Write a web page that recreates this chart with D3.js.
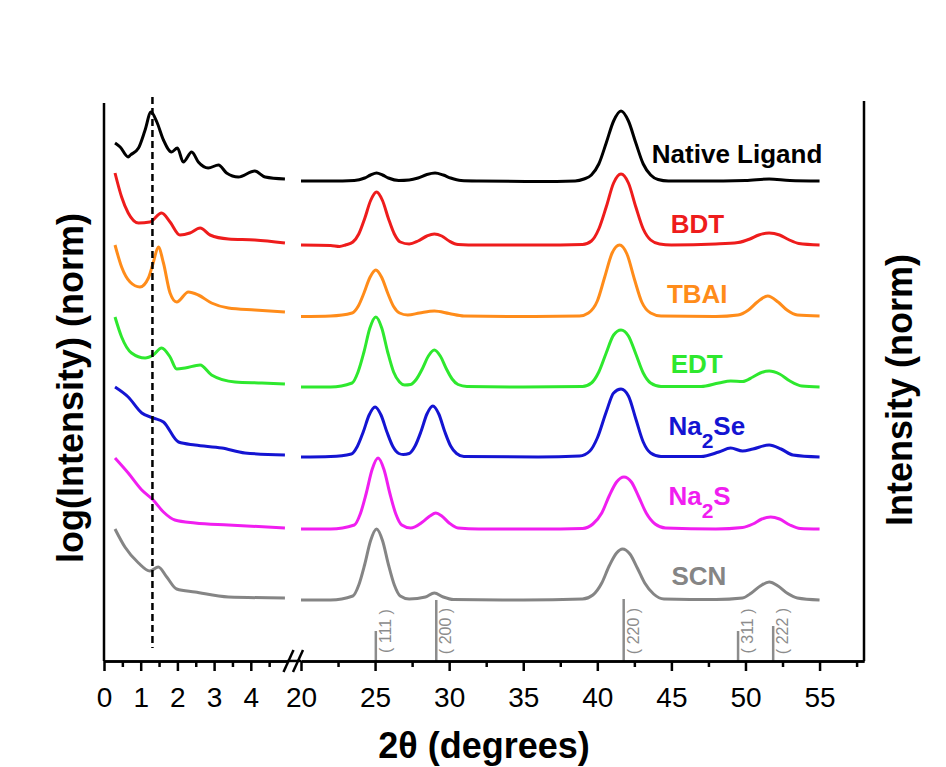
<!DOCTYPE html>
<html>
<head>
<meta charset="utf-8">
<script src="https://cdn.jsdelivr.net/npm/d3@7"></script>
<style>
  body { margin:0; background:#fff; }
  text { font-family: "Liberation Sans", Arial, sans-serif; }
</style>
</head>
<body>
<div id="chart"></div>
<script>
// XRD of PbSe NC films, low angle (log) + wide angle (linear)
const width = 946;
const height = 767;

const names = ["Native Ligand", "BDT", "TBAI", "EDT", "Na2Se", "Na2S", "SCN"];
const colors = ["#000000", "#ee1c1c", "#ff8c1a", "#2ee82e", "#1414d2", "#f01ef0", "#858585"];

// low angle part, log(Intensity), offset per sample
const lowNative = [[0.30,51.8],[0.44,51.4],[0.66,50.4],[0.72,50.6],[0.94,51.3],[1.12,53.1],[1.28,54.9],[1.44,53.9],[1.62,52.1],[1.84,50.9],[2.00,51.3],[2.16,49.9],[2.39,50.9],[2.57,49.9],[2.84,49.3],[3.12,49.6],[3.34,48.8],[3.66,48.4],[4.11,49.0],[4.39,48.4],[4.93,48.2]];
const lowBDT = [[0.30,48.8],[0.48,46.4],[0.66,44.8],[0.94,43.8],[1.25,43.9],[1.57,44.8],[1.80,43.9],[2.07,42.6],[2.34,42.8],[2.62,43.3],[2.89,42.6],[3.39,42.2],[4.11,42.1],[4.93,41.8]];
const lowTBAI = [[0.30,41.6],[0.48,39.4],[0.71,37.9],[0.98,37.4],[1.21,38.3],[1.34,39.8],[1.48,41.4],[1.62,39.8],[1.80,36.8],[1.98,35.9],[2.30,36.9],[2.57,36.6],[2.93,35.8],[3.39,35.3],[4.11,35.1],[4.93,34.9]];
const lowEDT = [[0.30,34.4],[0.48,32.4],[0.75,30.8],[1.12,30.3],[1.34,30.6],[1.57,31.3],[1.80,30.4],[1.98,29.2],[2.21,29.3],[2.62,29.6],[2.93,28.6],[3.57,27.9],[4.30,27.8],[4.93,27.7]];
const lowNa2Se = [[0.30,27.4],[0.66,26.4],[1.03,24.8],[1.34,24.3],[1.62,23.9],[2.03,21.9],[2.48,21.6],[3.21,21.3],[3.84,20.8],[4.93,20.6]];
const lowNa2S = [[0.30,20.3],[0.66,18.8],[1.03,17.1],[1.34,16.1],[1.62,14.9],[1.93,14.1],[2.48,13.8],[3.39,13.6],[4.93,13.3]];
const lowSCN = [[0.30,13.2],[0.57,11.4],[0.94,9.8],[1.25,9.0],[1.48,9.4],[1.71,8.4],[1.98,7.2],[2.48,6.9],[3.39,6.4],[4.93,6.3]];

// wide angle part, Intensity (norm), offset per sample
const wideNative = [[20,48.0],[22,48.0],[23.6,48.05],[24.3,48.3],[24.7,48.6],[25.1,48.8],[25.5,48.6],[25.9,48.3],[26.6,48.05],[27.3,48.1],[27.9,48.3],[28.5,48.65],[29.05,48.8],[29.6,48.6],[30.1,48.3],[30.8,48.05],[32,48.0],[36,47.95],[38.5,48.0],[39.1,48.2],[39.6,48.6],[40.1,49.7],[40.6,51.8],[41.1,54.0],[41.6,55.0],[42.1,54.0],[42.6,51.8],[43.1,49.7],[43.6,48.6],[44.1,48.15],[44.8,48.0],[47,48.0],[50,48.05],[51.6,48.2],[53,48.05],[55,48.0]];
const wideBDT = [[20,41.6],[22,41.55],[22.6,41.45],[23,41.6],[23.5,41.9],[23.9,42.7],[24.3,44.25],[24.7,46.05],[25.1,46.9],[25.5,46.05],[25.9,44.25],[26.3,42.7],[26.7,41.9],[27.3,41.7],[27.9,42.0],[28.5,42.5],[29,42.7],[29.5,42.5],[30,42.0],[30.6,41.65],[32,41.6],[36,41.6],[39,41.65],[39.6,42.0],[40.1,43.2],[40.6,45.4],[41.1,47.8],[41.6,48.7],[42.1,47.8],[42.6,45.4],[43.1,43.2],[43.6,42.1],[44.2,41.7],[45,41.6],[48,41.7],[49.5,41.85],[50.3,42.2],[50.9,42.6],[51.6,42.8],[52.3,42.6],[52.9,42.15],[53.6,41.75],[55,41.6]];
const wideTBAI = [[20,34.45],[22,34.5],[23.45,34.8],[23.85,35.45],[24.25,36.8],[24.65,38.35],[25.05,39.1],[25.45,38.35],[25.85,36.8],[26.25,35.45],[26.65,34.8],[27.2,34.6],[28,34.8],[29,35.0],[30,34.75],[31,34.5],[35,34.45],[38.8,34.5],[39.4,34.8],[40,36.0],[40.5,38.4],[41,40.8],[41.5,41.6],[42,40.7],[42.5,38.2],[43,35.9],[43.6,34.8],[44.3,34.5],[48,34.45],[49.5,34.6],[50.2,35.1],[50.8,35.9],[51.5,36.5],[52.2,35.9],[52.8,35.1],[53.5,34.6],[55,34.5]];
const wideEDT = [[20,27.4],[22,27.4],[23.45,27.8],[23.85,28.9],[24.25,30.9],[24.65,33.3],[25.05,34.4],[25.45,33.3],[25.85,30.9],[26.25,28.9],[26.65,27.9],[27.0,27.6],[27.4,27.65],[27.8,28.2],[28.2,29.25],[28.6,30.5],[29,31.1],[29.4,30.5],[29.8,29.25],[30.2,28.2],[30.6,27.65],[31.2,27.45],[35,27.4],[39,27.45],[39.6,27.8],[40.1,28.9],[40.6,30.8],[41.1,32.6],[41.6,33.1],[42.1,32.5],[42.6,30.7],[43.1,28.8],[43.6,27.8],[44.3,27.45],[47,27.45],[48.2,27.8],[49,28.0],[49.8,27.95],[50.5,28.4],[51,28.8],[51.6,29.0],[52.3,28.7],[53,28.0],[53.8,27.5],[55,27.4]];
const wideNa2Se = [[20,20.4],[22,20.45],[23.4,20.7],[23.8,21.45],[24.2,22.9],[24.6,24.6],[25,25.4],[25.4,24.6],[25.8,22.9],[26.2,21.45],[26.6,20.75],[26.9,20.65],[27.3,20.75],[27.7,21.5],[28.1,22.95],[28.5,24.7],[28.9,25.5],[29.3,24.7],[29.7,22.95],[30.1,21.5],[30.5,20.75],[31,20.45],[36,20.4],[38.8,20.5],[39.5,21.0],[40,22.3],[40.6,24.9],[41.1,26.8],[41.6,27.2],[42.1,26.5],[42.6,24.2],[43.1,21.9],[43.6,20.8],[44.3,20.45],[47,20.45],[48.2,20.9],[49,21.3],[49.8,21.0],[50.5,21.2],[51.6,21.6],[52.4,21.2],[53.2,20.6],[55,20.4]];
const wideNa2S = [[20,13.2],[22,13.2],[23.6,13.6],[24.0,14.7],[24.4,16.75],[24.8,19.15],[25.2,20.3],[25.6,19.15],[26.0,16.75],[26.4,14.7],[26.8,13.6],[27.4,13.3],[28.2,13.9],[28.7,14.5],[29.1,14.8],[29.5,14.5],[30,13.8],[30.6,13.3],[32,13.2],[36,13.2],[39,13.25],[39.7,13.7],[40.3,14.8],[40.8,16.5],[41.3,17.9],[41.8,18.4],[42.3,17.9],[42.8,16.4],[43.3,14.8],[43.9,13.7],[44.6,13.3],[48,13.2],[49.8,13.35],[50.5,13.7],[51.1,14.2],[51.7,14.4],[52.3,14.2],[53,13.6],[53.7,13.25],[55,13.2]];
const wideSCN = [[20,6.1],[22,6.1],[23.5,6.5],[23.9,7.6],[24.3,9.65],[24.7,12.05],[25.1,13.2],[25.5,12.05],[25.9,9.65],[26.3,7.6],[26.7,6.5],[27.3,6.2],[28.4,6.4],[29,6.8],[29.6,6.4],[30.3,6.15],[35,6.1],[39,6.2],[39.7,6.6],[40.3,7.8],[40.8,9.5],[41.3,10.8],[41.7,11.2],[42.2,10.7],[42.7,9.3],[43.2,7.8],[43.8,6.7],[44.5,6.2],[48,6.15],[49.8,6.3],[50.4,6.8],[51,7.5],[51.6,7.9],[52.2,7.5],[52.8,6.8],[53.5,6.3],[55,6.1]];

const lowData = [lowNative, lowBDT, lowTBAI, lowEDT, lowNa2Se, lowNa2S, lowSCN];
const wideData = [wideNative, wideBDT, wideTBAI, wideEDT, wideNa2Se, wideNa2S, wideSCN];

// PbSe reference pattern
const refPos = [25.05, 29.13, 41.78, 49.5, 51.87];
const refInt = [3.0, 6.1, 6.2, 3.0, 3.5];
const refHkl = ["( 111 )", "( 200 )", "( 220 )", "( 311 )", "( 222 )"];

const lowTicks = [0, 1, 2, 3, 4];
const lowMinor = [0.5, 1.5, 2.5, 3.5, 4.5];
const wideTicks = [20, 25, 30, 35, 40, 45, 50, 55];
const wideMinor = [22.5, 27.5, 32.5, 37.5, 42.5, 47.5, 52.5, 57.5];
const dashPos = 1.32;

const svg = d3.select("#chart").append("svg")
    .attr("width", width)
    .attr("height", height);

svg.append("rect").attr("width", width).attr("height", height).attr("fill", "white");

const xL = d3.scaleLinear().domain([0, 5]).range([104, 287.5]);
const xR = d3.scaleLinear().domain([20, 58]).range([301, 864]);
const y = d3.scaleLinear().domain([0, 56]).range([661, 101]);

const lineL = d3.line()
    .x(function(d) { return xL(d[0]); })
    .y(function(d) { return y(d[1]); })
    .curve(d3.curveMonotoneX);

const lineR = d3.line()
    .x(function(d) { return xR(d[0]); })
    .y(function(d) { return y(d[1]); })
    .curve(d3.curveMonotoneX);

// curves
svg.selectAll(".low")
    .data(lowData)
    .enter().append("path")
    .attr("class", "low")
    .attr("fill", "none")
    .attr("stroke", function(d, i) { return colors[i]; })
    .attr("stroke-width", 3)
    .attr("stroke-linejoin", "round")
    .attr("d", lineL);

svg.selectAll(".wide")
    .data(wideData)
    .enter().append("path")
    .attr("class", "wide")
    .attr("fill", "none")
    .attr("stroke", function(d, i) { return colors[i]; })
    .attr("stroke-width", 3)
    .attr("stroke-linejoin", "round")
    .attr("d", lineR);

// dashed guide
svg.append("line")
    .attr("x1", xL(dashPos)).attr("x2", xL(dashPos))
    .attr("y1", y(56.4)).attr("y2", y(1.3))
    .attr("stroke", "black")
    .attr("stroke-width", 2.5)
    .attr("stroke-dasharray", "7,4");

// reference sticks
svg.selectAll(".ref")
    .data(refPos)
    .enter().append("line")
    .attr("class", "ref")
    .attr("x1", function(d) { return xR(d); })
    .attr("x2", function(d) { return xR(d); })
    .attr("y1", y(0))
    .attr("y2", function(d, i) { return y(refInt[i]); })
    .attr("stroke", "#8c8c8c")
    .attr("stroke-width", 2.5);

svg.selectAll(".hkl")
    .data(refHkl)
    .enter().append("text")
    .attr("class", "hkl")
    .attr("transform", function(d, i) {
        return "translate(" + (xR(refPos[i]) + 15) + "," + y(3.0) + ") rotate(-90)";
    })
    .attr("text-anchor", "middle")
    .attr("font-size", 16)
    .attr("fill", "#8c8c8c")
    .text(function(d) { return d; });

// axes
function styleAxis(g) {
    g.selectAll("path").attr("stroke", "black").attr("stroke-width", 2.5);
    g.selectAll("line").attr("stroke", "black").attr("stroke-width", 2.5);
    g.selectAll("text").attr("font-size", 28).attr("fill", "black");
}

svg.append("g")
    .attr("transform", "translate(0," + y(0) + ")")
    .call(d3.axisBottom(xL).tickValues(lowMinor).tickSize(6).tickSizeOuter(0).tickFormat(""))
    .call(styleAxis);
svg.append("g")
    .attr("transform", "translate(0," + y(0) + ")")
    .call(d3.axisBottom(xL).tickValues(lowTicks).tickSize(10).tickSizeOuter(0).tickPadding(16).tickFormat(d3.format("d")))
    .call(styleAxis);

svg.append("g")
    .attr("transform", "translate(0," + y(0) + ")")
    .call(d3.axisBottom(xR).tickValues(wideMinor).tickSize(6).tickSizeOuter(0).tickFormat(""))
    .call(styleAxis);
svg.append("g")
    .attr("transform", "translate(0," + y(0) + ")")
    .call(d3.axisBottom(xR).tickValues(wideTicks).tickSize(10).tickSizeOuter(0).tickPadding(16).tickFormat(d3.format("d")))
    .call(styleAxis);

// join between the two axis parts and the break marks
svg.append("line")
    .attr("x1", xL(5)).attr("x2", xR(20))
    .attr("y1", y(0)).attr("y2", y(0))
    .attr("stroke", "black").attr("stroke-width", 2.5);

[xL(5) + 1, xR(20) - 3].forEach(function(bx) {
    svg.append("line")
        .attr("x1", bx - 5).attr("y1", y(0) + 11)
        .attr("x2", bx + 5).attr("y2", y(0) - 11)
        .attr("stroke", "black").attr("stroke-width", 2.5);
});

// side frame lines
svg.append("line")
    .attr("x1", xL(0)).attr("x2", xL(0))
    .attr("y1", y(55.8)).attr("y2", y(0))
    .attr("stroke", "black").attr("stroke-width", 2.5);
svg.append("line")
    .attr("x1", xR(58)).attr("x2", xR(58))
    .attr("y1", y(56)).attr("y2", y(0))
    .attr("stroke", "black").attr("stroke-width", 2.5);

// sample labels
const labelPos = [[43.68, 49.8], [44.95, 42.8], [44.7, 35.8], [44.95, 28.8], [44.8, 22.6], [44.8, 15.6], [45.0, 7.6]];

const labels = svg.selectAll(".lab")
    .data(names)
    .enter().append("text")
    .attr("class", "lab")
    .attr("x", function(d, i) { return xR(labelPos[i][0]); })
    .attr("y", function(d, i) { return y(labelPos[i][1]); })
    .attr("font-size", 26)
    .attr("font-weight", "bold")
    .attr("fill", function(d, i) { return colors[i]; });

labels.each(function(d) {
    const t = d3.select(this);
    const m = d.match(/^(Na)(2)(.*)$/);
    if (m) {
        t.append("tspan").text(m[1]);
        t.append("tspan").attr("dy", 13).attr("font-size", 21).text(m[2]);
        t.append("tspan").attr("dy", -13).text(m[3]);
    } else {
        t.text(d);
    }
});

// axis titles
svg.append("text")
    .attr("transform", "translate(70," + 388 + ") rotate(-90)")
    .attr("text-anchor", "middle")
    .attr("dy", "0.35em")
    .attr("font-size", 36)
    .attr("font-weight", "bold")
    .text("log(Intensity) (norm)");

svg.append("text")
    .attr("transform", "translate(899," + 390 + ") rotate(-90)")
    .attr("text-anchor", "middle")
    .attr("dy", "0.35em")
    .attr("font-size", 36)
    .attr("font-weight", "bold")
    .text("Intensity (norm)");

svg.append("text")
    .attr("x", 484)
    .attr("y", 758)
    .attr("text-anchor", "middle")
    .attr("font-size", 36)
    .attr("font-weight", "bold")
    .text("2θ (degrees)");
</script>
</body>
</html>
